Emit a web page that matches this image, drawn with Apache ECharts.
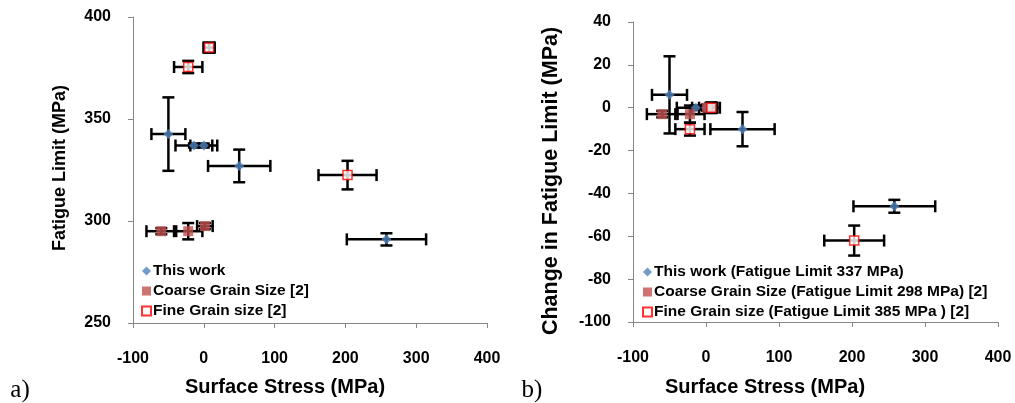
<!DOCTYPE html>
<html>
<head>
<meta charset="utf-8">
<script src="https://cdn.jsdelivr.net/npm/echarts@6/dist/echarts.min.js"></script>
<style>
html,body{margin:0;padding:0;background:#fff;}
#chart{width:1015px;height:403px;}
</style>
</head>
<body>
<div id="chart"></div>
<script>
// ---- data ----
// shared x (surface stress) values and x error half-widths
var workX = [-50, -14, 0, 50, 258];
var workXErr = [24, 26, 19, 44, 56];
var coarseX = [-60, -22, 1.5];
var coarseXErr = [21, 20, 11];
var fineX = [7.5, -22, 203];
var fineXErr = [8, 20, 41];

// panel a) fatigue limit (MPa)
var workY_a = [342.6, 337, 337, 327, 291];
var workYErr_a = [18, 1, 1, 8, 3];
var coarseY_a = [295, 295, 297.5];
var coarseYErr_a = [1.5, 4, 1.5];
var fineY_a = [385, 375.5, 322.5];
var fineYErr_a = [2.5, 3, 7];

// panel b) change in fatigue limit (MPa)
var workY_b = [6, 0, 0, -10, -46];
var workYErr_b = [18, 1, 1, 8, 3];
var coarseY_b = [-3, -3, 0];
var coarseYErr_b = [1.5, 4, 1.5];
var fineY_b = [0, -10, -62];
var fineYErr_b = [2.5, 3, 7];

var namesA = ['This work', 'Coarse Grain Size [2]', 'Fine Grain size [2]'];
var namesB = ['This work (Fatigue Limit 337 MPa)', 'Coarse Grain Size (Fatigue Limit 298 MPa) [2]', 'Fine Grain size (Fatigue Limit 385 MPa ) [2]'];

var xTicks = [-100, 0, 100, 200, 300, 400];

// ---- build ----
var FONT = '"Liberation Sans", Arial, sans-serif';
var AXIS_COLOR = '#868686';

function zip4(x, y, ex, ey) {
  var out = [];
  for (var i = 0; i < x.length; i++) out.push([x[i], y[i], ex[i], ey[i]]);
  return out;
}
function zip2(x, y) {
  var out = [];
  for (var i = 0; i < x.length; i++) out.push([x[i], y[i]]);
  return out;
}

function errRender(params, api) {
  var x = api.value(0), y = api.value(1), ex = api.value(2), ey = api.value(3);
  var l = api.coord([x - ex, y]), r = api.coord([x + ex, y]);
  var t = api.coord([x, y + ey]), b = api.coord([x, y - ey]);
  var cap = 6;
  var st = { stroke: '#000', lineWidth: 2.5, fill: null };
  function line(x1, y1, x2, y2) {
    return { type: 'line', shape: { x1: x1, y1: y1, x2: x2, y2: y2 }, style: st };
  }
  return {
    type: 'group',
    children: [
      line(l[0], l[1], r[0], r[1]),
      line(l[0], l[1] - cap, l[0], l[1] + cap),
      line(r[0], r[1] - cap, r[0], r[1] + cap),
      line(t[0], t[1], b[0], b[1]),
      line(t[0] - cap, t[1], t[0] + cap, t[1]),
      line(b[0] - cap, b[1], b[0] + cap, b[1])
    ]
  };
}

function errSeries(idx, x, y, ex, ey) {
  return {
    type: 'custom', xAxisIndex: idx, yAxisIndex: idx,
    renderItem: errRender, data: zip4(x, y, ex, ey),
    encode: { x: 0, y: 1 }, z: 2, silent: true, clip: false
  };
}

function pointSeries(idx, names) {
  var ys = idx === 0 ? [workY_a, coarseY_a, fineY_a] : [workY_b, coarseY_b, fineY_b];
  return [
    { name: names[0], type: 'scatter', xAxisIndex: idx, yAxisIndex: idx, symbol: 'diamond', symbolSize: 10,
      itemStyle: { color: '#4F81BD' }, data: zip2(workX, ys[0]), z: 5 },
    { name: names[1], type: 'scatter', xAxisIndex: idx, yAxisIndex: idx, symbol: 'rect', symbolSize: 10,
      itemStyle: { color: '#C0504D' }, data: zip2(coarseX, ys[1]), z: 5 },
    { name: names[2], type: 'scatter', xAxisIndex: idx, yAxisIndex: idx, symbol: 'rect', symbolSize: 9,
      itemStyle: { color: '#FFFFFF', borderColor: '#FF0000', borderWidth: 1.5 }, data: zip2(fineX, ys[2]), z: 5 }
  ];
}

function xAxisCfg(idx) {
  return {
    type: 'value', gridIndex: idx, min: xTicks[0], max: xTicks[xTicks.length - 1], interval: 100,
    axisLine: { show: true, onZero: false, lineStyle: { color: AXIS_COLOR, width: 1 } },
    axisTick: { show: true, inside: false, length: 5, lineStyle: { color: AXIS_COLOR } },
    splitLine: { show: false },
    axisLabel: { margin: 28, color: '#000', fontFamily: FONT, fontWeight: 'bold', fontSize: 16 }
  };
}
function yAxisCfg(idx, min, max, interval) {
  return {
    type: 'value', gridIndex: idx, min: min, max: max, interval: interval,
    axisLine: { show: true, onZero: false, lineStyle: { color: AXIS_COLOR, width: 1 } },
    axisTick: { show: true, inside: false, length: 5, lineStyle: { color: AXIS_COLOR } },
    splitLine: { show: false },
    axisLabel: { margin: 22, color: '#000', fontFamily: FONT, fontWeight: 'bold', fontSize: 16 }
  };
}

function legendCfg(left, top, names) {
  return {
    orient: 'vertical', left: left, top: top, itemWidth: 9, itemHeight: 9, itemGap: 4,
    selectedMode: false, padding: 0,
    data: [{ name: names[0], icon: 'diamond' }, { name: names[1], icon: 'rect' }, { name: names[2], icon: 'rect' }],
    textStyle: { color: '#000', fontFamily: FONT, fontWeight: 'bold', fontSize: 15.5, lineHeight: 16, padding: [0, 0, 0, -3] }
  };
}

function titleText(x, y, text, size, rot, family) {
  return {
    type: 'text', x: x, y: y, rotation: rot || 0,
    style: { text: text, fill: '#000', font: (family ? '' : 'bold ') + size + 'px ' + (family || FONT),
             textAlign: 'center', textVerticalAlign: 'middle' }
  };
}

var chart = echarts.init(document.getElementById('chart'), null, { renderer: 'canvas' });
var option = {
  backgroundColor: '#fff',
  animation: false,
  grid: [
    { left: 133, top: 17, width: 354, height: 306 },
    { left: 633, top: 22, width: 365, height: 300 }
  ],
  xAxis: [xAxisCfg(0), xAxisCfg(1)],
  yAxis: [yAxisCfg(0, 250, 400, 50), yAxisCfg(1, -100, 40, 20)],
  legend: [legendCfg(141, 263, namesA), legendCfg(642, 264, namesB)],
  graphic: [
    titleText(285, 387, 'Surface Stress (MPa)', 20),
    titleText(765, 387, 'Surface Stress (MPa)', 20),
    titleText(60, 168, 'Fatigue Limit (MPa)', 18, Math.PI / 2),
    titleText(551, 181, 'Change in Fatigue Limit (MPa)', 21.5, Math.PI / 2),
    titleText(20, 390, 'a)', 25, 0, '"Liberation Serif", "Times New Roman", serif'),
    titleText(532, 390, 'b)', 25, 0, '"Liberation Serif", "Times New Roman", serif')
  ],
  series: [
    errSeries(0, workX, workY_a, workXErr, workYErr_a),
    errSeries(0, coarseX, coarseY_a, coarseXErr, coarseYErr_a),
    errSeries(0, fineX, fineY_a, fineXErr, fineYErr_a),
    errSeries(1, workX, workY_b, workXErr, workYErr_b),
    errSeries(1, coarseX, coarseY_b, coarseXErr, coarseYErr_b),
    errSeries(1, fineX, fineY_b, fineXErr, fineYErr_b)
  ].concat(pointSeries(0, namesA)).concat(pointSeries(1, namesB))
};
chart.setOption(option);
</script>
</body>
</html>
